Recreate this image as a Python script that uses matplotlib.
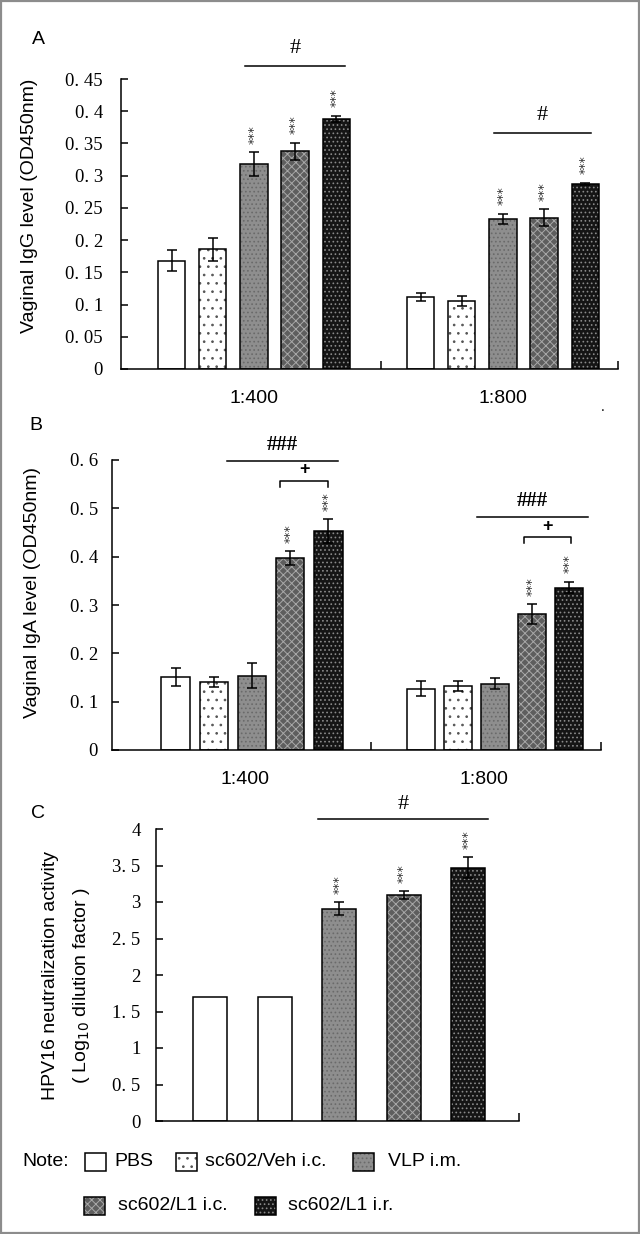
#!/usr/bin/env python3

import numpy as np
import matplotlib
matplotlib.use("Agg")
import matplotlib.pyplot as plt
from matplotlib.patches import Rectangle

# groups shown in every panel
groups = ["PBS", "sc602/Veh i.c.", "VLP i.m.", "sc602/L1 i.c.", "sc602/L1 i.r."]
dilutions = ["1:400", "1:800"]

# panel A - vaginal IgG (OD450)
igg_400 = [0.168, 0.186, 0.318, 0.338, 0.388]
igg_400_err = [0.016, 0.018, 0.018, 0.013, 0.005]
igg_800 = [0.112, 0.106, 0.233, 0.235, 0.287]
igg_800_err = [0.006, 0.008, 0.008, 0.013, 0.002]
igg_stars = [0, 0, 1, 1, 1]

# panel B - vaginal IgA (OD450)
iga_400 = [0.151, 0.141, 0.154, 0.397, 0.453]
iga_400_err = [0.018, 0.010, 0.025, 0.014, 0.024]
iga_800 = [0.127, 0.132, 0.137, 0.281, 0.336]
iga_800_err = [0.016, 0.010, 0.011, 0.021, 0.012]
iga_stars = [0, 0, 0, 1, 1]

# panel C - neutralization (log10 dilution)
neut = [1.7, 1.7, 2.91, 3.09, 3.47]
neut_err = [0, 0, 0.09, 0.055, 0.14]
neut_stars = [0, 0, 1, 1, 1]

igg_ticks = ["0", "0. 05", "0. 1", "0. 15", "0. 2", "0. 25", "0. 3", "0. 35", "0. 4", "0. 45"]
iga_ticks = ["0", "0. 1", "0. 2", "0. 3", "0. 4", "0. 5", "0. 6"]
neut_ticks = ["0", "0. 5", "1", "1. 5", "2", "2. 5", "3", "3. 5", "4"]

# face, hatch, hatch colour
styles = [
    ("white", None, None),
    ("white", "..", "#555555"),
    ("#8e8e8e", "....", "#6a6a6a"),
    ("#5e5e5e", "xxxx", "#a8a8a8"),
    ("#151515", "....", "#8a8a8a"),
]
# in panel C the vehicle bar is drawn plain white
styles_c = [styles[0], styles[0]] + styles[2:]

W, H = 640, 1234
SANS = "Liberation Sans"
SERIF = "Liberation Serif"

plt.rcParams["hatch.linewidth"] = 0.7


def fx(px):
    return px / W


def fy(py):
    return 1 - py / H


def draw_bar(ax, x, h, w, style):
    face, hatch, hcol = style
    ax.bar(x, h, w, color=face, edgecolor="none", zorder=2)
    if hatch:
        ax.bar(x, h, w, fill=False, hatch=hatch, edgecolor=hcol, linewidth=0, zorder=2.1)
    ax.bar(x, h, w, fill=False, edgecolor="black", linewidth=1.1, zorder=2.2)


def draw_group(ax, xs, vals, errs, stars, w, sty):
    for i, (x, v, e) in enumerate(zip(xs, vals, errs)):
        draw_bar(ax, x, v, w, sty[i])
        if e > 0:
            ax.errorbar(x, v, yerr=e, fmt="none", ecolor="black", elinewidth=1.1,
                        capsize=3.6, capthick=1.1, zorder=3)
        if stars[i]:
            ax.annotate("***", (x, v + e), xytext=(0, 6), textcoords="offset points",
                        rotation=90, ha="center", va="bottom", fontsize=9,
                        family="DejaVu Sans", color="#333333")


def style_axis(ax, ymax, step, labels, pad):
    for s in ["top", "right"]:
        ax.spines[s].set_visible(False)
    for s in ["left", "bottom"]:
        ax.spines[s].set_linewidth(1.1)
    ax.set_ylim(0, ymax)
    ax.set_yticks(np.arange(len(labels)) * step)
    ax.set_yticklabels(labels, family=SERIF, fontsize=13.5)
    ax.tick_params(axis="y", direction="in", length=5, width=1.1, pad=pad)
    ax.tick_params(axis="x", which="major", length=0, pad=15, labelsize=14)
    ax.tick_params(axis="x", which="minor", direction="in", length=6, width=1.1)
    for t in ax.get_xticklabels():
        t.set_family(SANS)


def bracket_line(ax, x0, x1, y, text, ty, tsize=16, weight="normal"):
    ax.plot([x0, x1], [y, y], color="black", lw=1.1, clip_on=False)
    ax.text((x0 + x1) / 2, ty, text, ha="center", va="center", fontsize=tsize,
            family=SERIF, weight=weight, clip_on=False)


fig = plt.figure(figsize=(W / 100, H / 100), dpi=100)

# ---------------- panel A ----------------
axA = fig.add_axes([fx(121), fy(369), 497 / W, 290 / H])
offA = (np.arange(5) - 2) * 0.1655
wA = 0.11
draw_group(axA, 0 + offA, igg_400, igg_400_err, igg_stars, wA, styles)
draw_group(axA, 1 + offA, igg_800, igg_800_err, igg_stars, wA, styles)
axA.set_xlim(-0.534, 1.462)
axA.set_xticks([0, 1])
axA.set_xticklabels(dilutions)
axA.set_xticks([0.51, 1.462], minor=True)
style_axis(axA, 0.45, 0.05, igg_ticks, 13)
bracket_line(axA, offA[2] - 0.036, offA[4] + 0.036, 0.470, "#", 0.497)
bracket_line(axA, 1 + offA[2] - 0.036, 1 + offA[4] + 0.024, 0.366, "#", 0.393)
fig.text(fx(603), fy(407), ".", fontsize=10, family=SANS, ha="center", va="center")

# ---------------- panel B ----------------
axB = fig.add_axes([fx(112), fy(750), 489 / W, 290 / H])
offB = (np.arange(5) - 2) * 0.157
wB = 0.117
draw_group(axB, 0 + offB, iga_400, iga_400_err, iga_stars, wB, styles)
draw_group(axB, 1 + offB * 0.97, iga_800, iga_800_err, iga_stars, wB, styles)
axB.set_xlim(-0.576, 1.436)
axB.set_xticks([-0.029, 0.955])
axB.set_xticklabels(dilutions)
axB.set_xticks([0.49, 1.436], minor=True)
style_axis(axB, 0.6, 0.1, iga_ticks, 10)
bracket_line(axB, -0.103, 0.354, 0.598, "###", 0.632, tsize=15, weight="bold")
bracket_line(axB, 0.926, 1.383, 0.482, "###", 0.516, tsize=15, weight="bold")
for x0, x1, y, ty in [(0.115, 0.313, 0.557, 0.580), (1.119, 1.313, 0.441, 0.463)]:
    axB.plot([x0, x0, x1, x1], [y - 0.013, y, y, y - 0.013], color="black", lw=1.1,
             clip_on=False)
    axB.text((x0 + x1) / 2, ty, "+", ha="center", va="center", fontsize=13, family=SANS,
             weight="bold")

# ---------------- panel C ----------------
axC = fig.add_axes([fx(156), fy(1121), 363 / W, 292 / H])
xC = np.arange(5)
draw_group(axC, xC, neut, neut_err, neut_stars, 0.53, styles_c)
axC.set_xlim(-0.84, 4.79)
axC.set_xticks([])
axC.set_xticks([4.79], minor=True)
style_axis(axC, 4, 0.5, neut_ticks, 11)
bracket_line(axC, 1.674, 4.31, 4.137, "#", 4.33)

# ---------------- labels ----------------
fig.text(fx(38), fy(39), "A", fontsize=14, family=SANS, ha="center", va="center")
fig.text(fx(36), fy(425), "B", fontsize=14, family=SANS, ha="center", va="center")
fig.text(fx(38), fy(813), "C", fontsize=14, family=SANS, ha="center", va="center")

fig.text(fx(30), fy(206), "Vaginal IgG level (OD450nm)", rotation=90, fontsize=14,
         family=SANS, ha="center", va="center")
fig.text(fx(33), fy(593), "Vaginal IgA level (OD450nm)", rotation=90, fontsize=14,
         family=SANS, ha="center", va="center")
fig.text(fx(51), fy(976), "HPV16 neutralization activity", rotation=90, fontsize=14,
         family=SANS, ha="center", va="center")
fig.text(fx(82), fy(986), "( Log$_{10}$ dilution factor )", rotation=90, fontsize=14,
         family=SANS, ha="center", va="center")

# ---------------- legend ----------------
fig.text(fx(22), fy(1161), "Note:", fontsize=14, family=SANS, ha="left", va="center")
legend_boxes = [(85, 1153), (176, 1153), (353, 1153), (84, 1197), (255, 1197)]
legend_text_x = [114, 205, 388, 118, 288]
for i, ((bx, by), tx) in enumerate(zip(legend_boxes, legend_text_x)):
    face, hatch, hcol = styles[i]
    fig.add_artist(Rectangle((fx(bx), fy(by + 18)), 21 / W, 18 / H, transform=fig.transFigure,
                             facecolor=face, edgecolor="none"))
    if hatch:
        fig.add_artist(Rectangle((fx(bx), fy(by + 18)), 21 / W, 18 / H,
                                 transform=fig.transFigure, fill=False, hatch=hatch,
                                 edgecolor=hcol, linewidth=0))
    fig.add_artist(Rectangle((fx(bx), fy(by + 18)), 21 / W, 18 / H, transform=fig.transFigure,
                             fill=False, edgecolor="black", linewidth=1.1))
    fig.text(fx(tx), fy(by + 9), groups[i], fontsize=14, family=SANS, ha="left", va="center")

# outer frame
fig.add_artist(Rectangle((0.0015, 0.001), 0.997, 0.998, transform=fig.transFigure,
                         fill=False, edgecolor="#8c8c8c", linewidth=1.6))

fig.savefig("out.png", dpi=100, facecolor="white")
